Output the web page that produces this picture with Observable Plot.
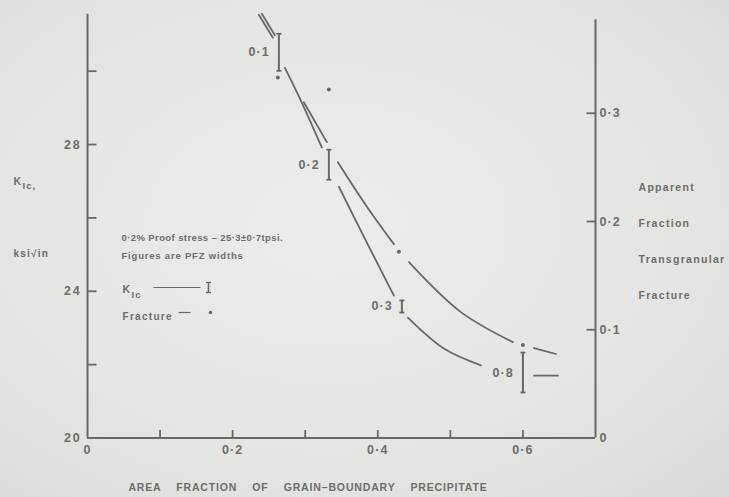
<!DOCTYPE html>
<html><head><meta charset="utf-8">
<script src="https://cdn.jsdelivr.net/npm/d3@7"></script>
<script src="https://cdn.jsdelivr.net/npm/@observablehq/plot@0.6"></script>
<style>
html,body{margin:0;padding:0;}
body{width:729px;height:497px;overflow:hidden;background:radial-gradient(ellipse at 45% 45%, #ececea 0%, #e4e4e2 65%, #d9d9d7 100%);}
</style></head><body><div id="chart"></div>
<script>
// ---- data ----
// K_Ic scatter bars (left axis, ksi√in) labelled with PFZ widths
const pfzWidths  = ["0·1", "0·2", "0·3", "0·8"];
const kicBarX    = [0.2637, 0.3326, 0.4332, 0.600];
const kicBarLow  = [30.01, 27.04, 23.42, 21.24];
const kicBarHigh = [31.02, 27.86, 23.75, 22.33];

// Apparent fraction transgranular fracture points (right axis)
const fracDotX = [0.2623, 0.3326, 0.4291, 0.600];
const fracDotR = [0.333, 0.322, 0.172, 0.086];

// K_Ic curve (drawn in broken segments)
const kicCurveSeg = [1, 1, 2, 2, 2, 3, 3, 3, 4, 4, 4, 5, 5];
const kicCurveX   = [0.2361, 0.2554, 0.2720, 0.2940, 0.3229, 0.3464, 0.3836, 0.4222, 0.4415, 0.4916, 0.5421, 0.6152, 0.6483];
const kicCurveY   = [31.54, 30.91, 30.09, 29.20, 27.92, 26.85, 25.38, 23.88, 23.28, 22.43, 21.98, 21.70, 21.70];

// Fracture curve (right-axis units, broken segments)
const fracCurveSeg = [1, 1, 2, 2, 3, 3, 3, 4, 4, 4, 5, 5];
const fracCurveX   = [0.2402, 0.2582, 0.2981, 0.3298, 0.3450, 0.3836, 0.4222, 0.4430, 0.5146, 0.5862, 0.6152, 0.6455];
const fracCurveR   = [0.392, 0.372, 0.3102, 0.2733, 0.2548, 0.2151, 0.1791, 0.1625, 0.1163, 0.0886, 0.0831, 0.0776];

// axis ticks
const xTicks = [0.1, 0.2, 0.3, 0.4, 0.5, 0.6];
const xTickLabels = [0, 0.2, 0.4, 0.6];
const yTicks = [22, 24, 26, 28, 30];
const yTickLabels = [20, 24, 28];
const rTicks = [0.1, 0.2, 0.3];
const rTickLabels = [0, 0.1, 0.2, 0.3];

// text
const rightTitle = ["Apparent", "Fraction", "Transgranular", "Fracture"];
const noteLines = ["0·2% Proof stress – 25·3±0·7tpsi.", "Figures are PFZ widths"];
const xTitle = "AREA    FRACTION    OF    GRAIN–BOUNDARY    PRECIPITATE";

// ---- build ----
const F = 29.51;                       // right-axis fraction -> left-axis units
const toLeft = r => 20 + r * F;
const fmt = d => d === 0 ? "0" : d.toFixed(1).replace(".", "·");

const bars = kicBarX.map((x, i) => ({x, lo: kicBarLow[i], hi: kicBarHigh[i], label: pfzWidths[i]}));
const dots = fracDotX.map((x, i) => ({x, r: fracDotR[i]}));
const kicCurve = kicCurveX.map((x, i) => ({x, y: kicCurveY[i], seg: kicCurveSeg[i]}));
const fracCurve = fracCurveX.map((x, i) => ({x, r: fracCurveR[i], seg: fracCurveSeg[i]}));

const INK = "#686868";
const TXT = "#6d6d6d";
const sym = (pts) => ({draw(ctx){ ctx.moveTo(pts[0], pts[1]); ctx.lineTo(pts[2], pts[3]); }});
const capSym = sym([-2.5, 0, 2.5, 0]);
const FONT = "'Liberation Sans', Arial, sans-serif";
const T = {fill: TXT, fontWeight: "bold"};

// letter spacing (px) applied after render, keyed by text content
const SPACING = new Map();
const TICK = {...T, fontSize: 12.5};
const note = (txt, dx, dy, size, spacing) => {
  SPACING.set(txt, spacing);
  return Plot.text([txt], {frameAnchor: "top-left", dx, dy, textAnchor: "start", ...T, fontSize: size});
};
[...pfzWidths, ...xTickLabels.map(fmt), ...rTickLabels.map(fmt)].forEach(t => SPACING.set(t, 1.1));
yTickLabels.forEach(t => SPACING.set(String(t), 1.8));
rightTitle.forEach(t => SPACING.set(t, 1.3));
SPACING.set(xTitle, 0.85);

const chart = Plot.plot({
  width: 729, height: 497,
  marginLeft: 87, marginRight: 134, marginTop: 12, marginBottom: 59.5,
  x: {domain: [0, 0.7]},
  y: {domain: [20, 31.6]},
  style: {background: "transparent", fontFamily: FONT, fontSize: "10px", color: TXT},
  marks: [
    // frame lines
    Plot.ruleX([0], {y1: 20, y2: 31.55, stroke: INK, strokeWidth: 2}),
    Plot.ruleX([0.7], {y1: 20, y2: 31.4, stroke: INK, strokeWidth: 2}),
    Plot.ruleY([20], {stroke: INK, strokeWidth: 2}),
    // inward ticks
    Plot.dot(yTicks, {x: () => 0, y: d => d, symbol: sym([0, 0, 9, 0]), stroke: INK, strokeWidth: 1.8, fill: "none"}),
    Plot.dot(xTicks, {x: d => d, y: () => 20, symbol: sym([0, 0, 0, -8]), stroke: INK, strokeWidth: 1.8, fill: "none"}),
    Plot.dot(rTicks, {x: () => 0.7, y: d => toLeft(d), symbol: sym([0, 0, -9, 0]), stroke: INK, strokeWidth: 1.8, fill: "none"}),
    // tick labels
    Plot.axisY({ticks: yTickLabels, tickSize: 0, tickPadding: 6, label: null, tickFormat: d => String(d), ...TICK}),
    Plot.axisX({ticks: xTickLabels, tickSize: 0, tickPadding: 7, label: null, tickFormat: fmt, ...TICK}),
    Plot.axisY({anchor: "right", ticks: rTickLabels.map(toLeft), tickSize: 0, tickPadding: 4, label: null,
      tickFormat: d => fmt(Math.round((d - 20) / F * 10) / 10), ...TICK}),
    // curves
    Plot.line(kicCurve, {x: "x", y: "y", z: "seg", stroke: INK, strokeWidth: 1.8, curve: "catmull-rom"}),
    Plot.line(fracCurve, {x: "x", y: d => toLeft(d.r), z: "seg", stroke: INK, strokeWidth: 1.8, curve: "catmull-rom"}),
    // K_Ic bars
    Plot.ruleX(bars, {x: "x", y1: "lo", y2: "hi", stroke: INK, strokeWidth: 2}),
    Plot.dot(bars, {x: "x", y: "lo", symbol: capSym, stroke: INK, strokeWidth: 1.8, fill: "none"}),
    Plot.dot(bars, {x: "x", y: "hi", symbol: capSym, stroke: INK, strokeWidth: 1.8, fill: "none"}),
    Plot.text(bars, {x: "x", y: d => (d.lo + d.hi) / 2, text: "label", textAnchor: "end", dx: -9, ...TICK}),
    // fracture points
    Plot.dot(dots, {x: "x", y: d => toLeft(d.r), r: 2, fill: INK, stroke: "none"}),
    // left axis title
    note("K", -74, 165, 10.5, 1),
    note("Ic,", -65, 170, 9.5, 1),
    note("ksi√in", -74, 237, 10, 1.2),
    // right axis title
    ...rightTitle.map((t, i) => Plot.text([t], {frameAnchor: "top-right", dx: 43, dy: 171 + i * 36, textAnchor: "start", ...T, fontSize: 10.5})),
    // legend / notes
    note(noteLines[0], 34, 222, 9.5, 0.4),
    note(noteLines[1], 34, 240, 9.5, 0.8),
    note("K", 35, 273, 10.5, 1),
    note("Ic", 44, 279, 9.5, 1),
    Plot.dot([0], {frameAnchor: "top-left", dx: 66, dy: 275, symbol: sym([0, 0, 47, 0]), stroke: INK, strokeWidth: 1, fill: "none"}),
    Plot.dot([0], {frameAnchor: "top-left", dx: 121, dy: 275, symbol: sym([0, -5, 0, 5]), stroke: INK, strokeWidth: 1.6, fill: "none"}),
    Plot.dot([0], {frameAnchor: "top-left", dx: 121, dy: 270, symbol: capSym, stroke: INK, strokeWidth: 1.4, fill: "none"}),
    Plot.dot([0], {frameAnchor: "top-left", dx: 121, dy: 280, symbol: capSym, stroke: INK, strokeWidth: 1.4, fill: "none"}),
    note("Fracture", 35, 300, 10, 1.3),
    Plot.dot([0], {frameAnchor: "top-left", dx: 91, dy: 300, symbol: sym([0, 0, 12, 0]), stroke: INK, strokeWidth: 1.2, fill: "none"}),
    Plot.dot([0], {frameAnchor: "top-left", dx: 123, dy: 300, r: 1.7, fill: INK, stroke: "none"}),
    // x axis title
    Plot.text([xTitle], {frameAnchor: "bottom", dx: -33.5, dy: 53, textAnchor: "middle", ...T, fontSize: 10.5})
  ]
});
chart.querySelectorAll("text").forEach(t => {
  const v = SPACING.get(t.textContent);
  if (v !== undefined) t.style.letterSpacing = v + "px";
});
document.getElementById("chart").append(chart);
</script>
</body></html>
